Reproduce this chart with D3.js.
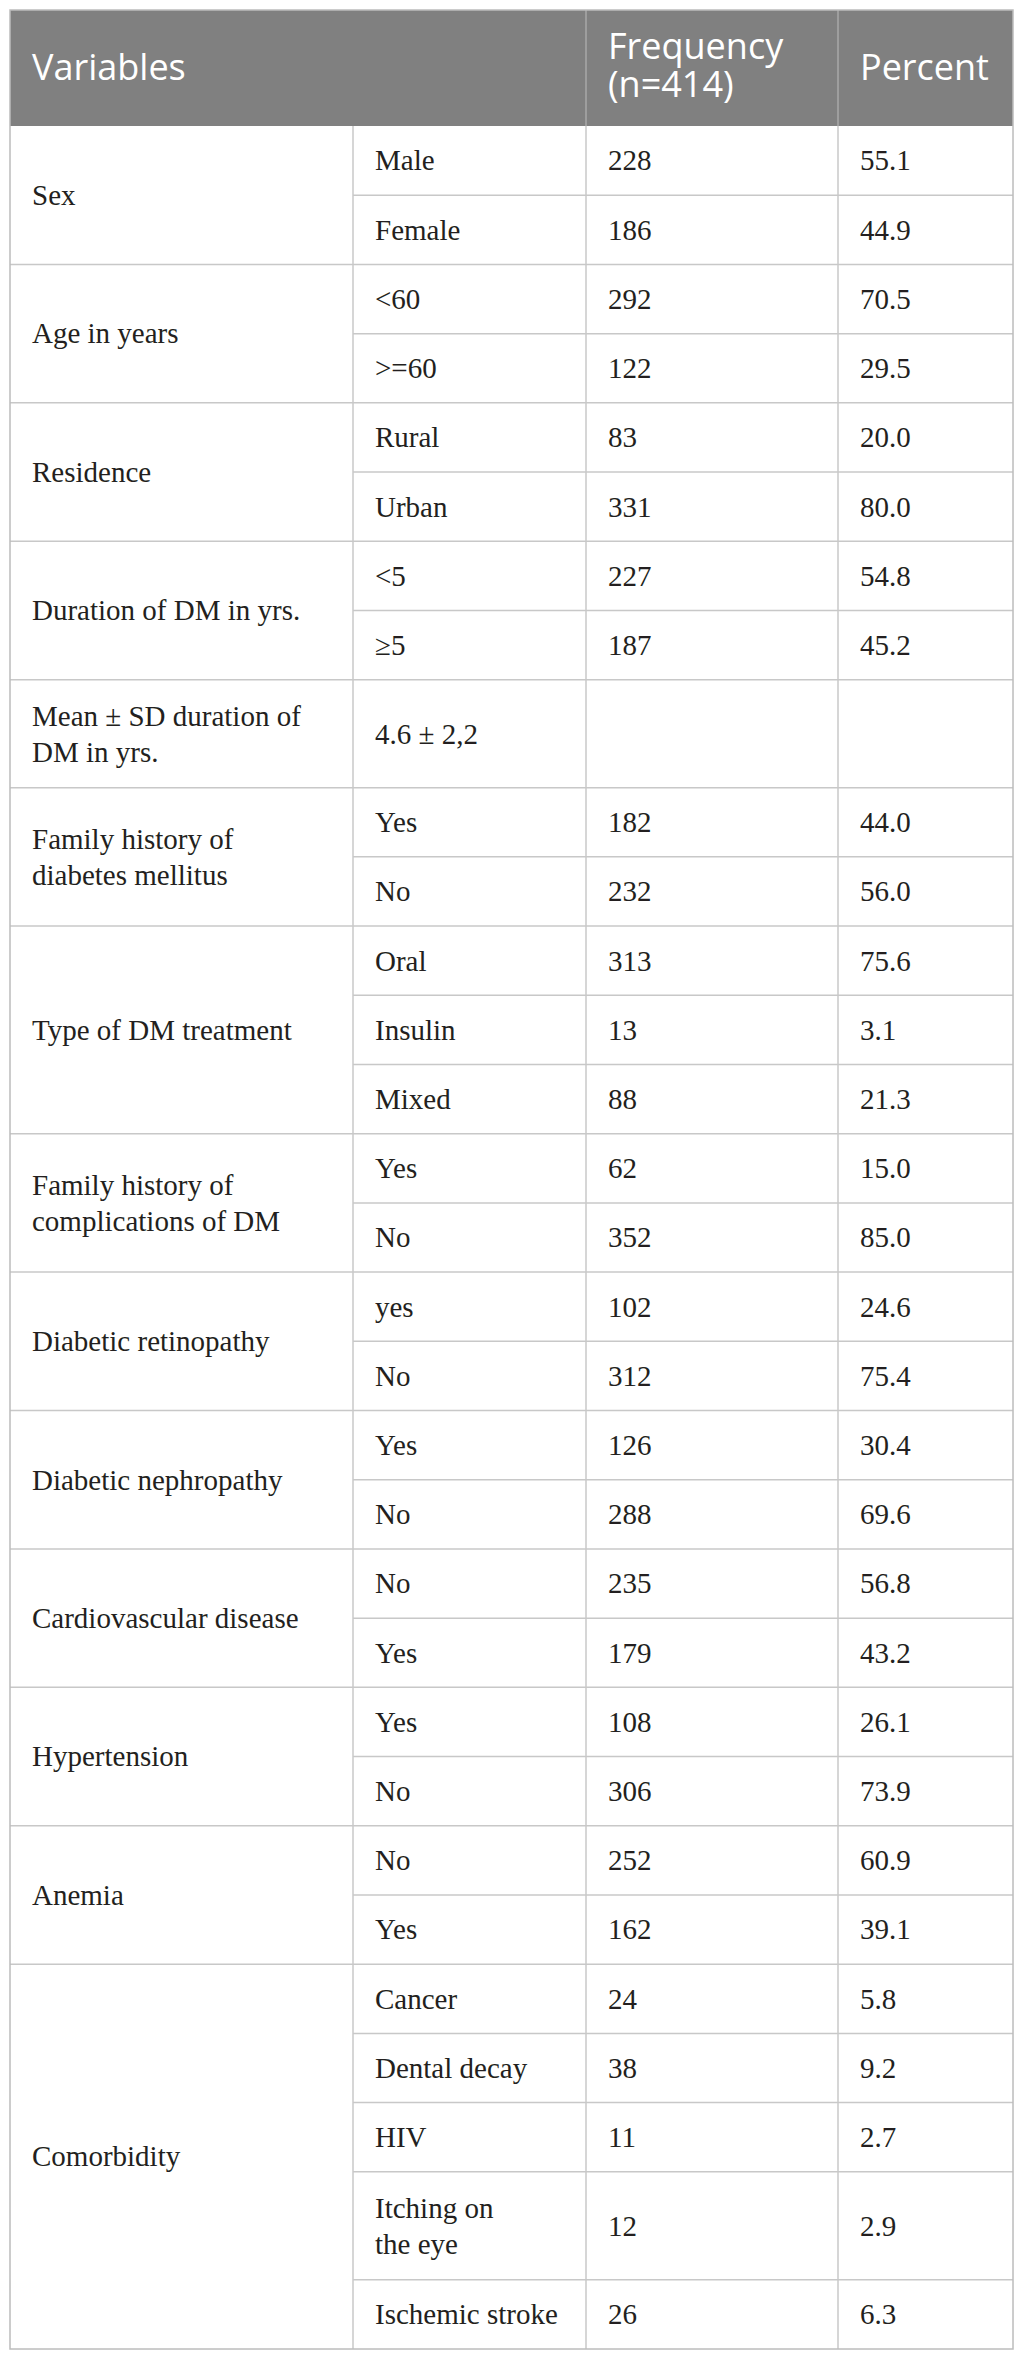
<!DOCTYPE html>
<html>
<head>
<meta charset="utf-8">
<script src="https://cdn.jsdelivr.net/npm/d3@7"></script>
<style>
  body { margin: 0; background: #ffffff; }
</style>
</head>
<body>
<script>
// Table content, one entry per variable group
var headers = ["Variables", "Frequency\n(n=414)", "Percent"];

var variables = [
  "Sex",
  "Age in years",
  "Residence",
  "Duration of DM in yrs.",
  "Mean ± SD duration of\nDM in yrs.",
  "Family history of\ndiabetes mellitus",
  "Type of DM treatment",
  "Family history of\ncomplications of DM",
  "Diabetic retinopathy",
  "Diabetic nephropathy",
  "Cardiovascular disease",
  "Hypertension",
  "Anemia",
  "Comorbidity"
];

var categories = [
  ["Male", "Female"],
  ["<60", ">=60"],
  ["Rural", "Urban"],
  ["<5", "≥5"],
  ["4.6 ± 2,2"],
  ["Yes", "No"],
  ["Oral", "Insulin", "Mixed"],
  ["Yes", "No"],
  ["yes", "No"],
  ["Yes", "No"],
  ["No", "Yes"],
  ["Yes", "No"],
  ["No", "Yes"],
  ["Cancer", "Dental decay", "HIV", "Itching on\nthe eye", "Ischemic stroke"]
];

var frequencies = [
  [228, 186],
  [292, 122],
  [83, 331],
  [227, 187],
  [null],
  [182, 232],
  [313, 13, 88],
  [62, 352],
  [102, 312],
  [126, 288],
  [235, 179],
  [108, 306],
  [252, 162],
  [24, 38, 11, 12, 26]
];

var percents = [
  ["55.1", "44.9"],
  ["70.5", "29.5"],
  ["20.0", "80.0"],
  ["54.8", "45.2"],
  [""],
  ["44.0", "56.0"],
  ["75.6", "3.1", "21.3"],
  ["15.0", "85.0"],
  ["24.6", "75.4"],
  ["30.4", "69.6"],
  ["56.8", "43.2"],
  ["26.1", "73.9"],
  ["60.9", "39.1"],
  ["5.8", "9.2", "2.7", "2.9", "6.3"]
];

var W = 1025, H = 2361;
var LEFT = 10, RIGHT = 1013, TOP = 10, HEAD_BOTTOM = 126, BOTTOM = 2349;
var PAD = 22;
var BODY_FONT = "'Liberation Serif', 'Times New Roman', serif";
var HEAD_FONT = "'Open Sans', 'Noto Sans', sans-serif";
var BODY_SIZE = 29, HEAD_SIZE = 36;
var LINE_GAP = 36, HEAD_LINE_GAP = 38;
var GRID = "#c8c8c8";

// build flat list of rows
var rows = [];
variables.forEach(function(v, g) {
  categories[g].forEach(function(c, i) {
    var lines = Math.max(c.split("\n").length, (categories[g].length === 1 ? v.split("\n").length : 1));
    rows.push({ group: g, idx: i, cat: c, freq: frequencies[g][i], pct: percents[g][i], units: lines > 1 ? 1.56 : 1 });
  });
});
var acc = 0;
rows.forEach(function(r) { r.u0 = acc; acc += r.units; r.u1 = acc; });

var y = d3.scaleLinear().domain([0, acc]).range([HEAD_BOTTOM, BOTTOM]);
var x = d3.scaleOrdinal().domain(["var", "cat", "freq", "pct", "end"]).range([LEFT, 353, 586, 838, RIGHT]);

var svg = d3.select("body").append("svg")
  .attr("width", W)
  .attr("height", H);

svg.append("rect").attr("width", W).attr("height", H).attr("fill", "#ffffff");

// header
svg.append("rect")
  .attr("x", LEFT).attr("y", TOP)
  .attr("width", RIGHT - LEFT).attr("height", HEAD_BOTTOM - TOP)
  .attr("fill", "#808080");

[x("freq"), x("pct")].forEach(function(px) {
  svg.append("line")
    .attr("x1", px).attr("x2", px).attr("y1", TOP).attr("y2", HEAD_BOTTOM)
    .attr("stroke", "#a8a8a8").attr("stroke-width", 1.5);
});

function multiline(sel, text, cx, cy, size, gap) {
  var lines = text.split("\n");
  var capHalf = size * 0.34;
  var t = sel.append("text").attr("x", cx);
  lines.forEach(function(l, i) {
    t.append("tspan")
      .attr("x", cx)
      .attr("y", cy + capHalf + (i - (lines.length - 1) / 2) * gap)
      .text(l);
  });
  return t;
}

var headMid = (TOP + HEAD_BOTTOM) / 2;
var head = svg.append("g")
  .attr("font-family", HEAD_FONT)
  .attr("font-size", HEAD_SIZE)
  .attr("fill", "#ffffff");
headers.forEach(function(h, i) {
  var key = ["var", "freq", "pct"][i];
  var twoLine = h.indexOf("\n") >= 0;
  multiline(head, h, x(key) + PAD, twoLine ? headMid - 2 : headMid, HEAD_SIZE * 0.99, HEAD_LINE_GAP);
});

// body grid
var grid = svg.append("g").attr("stroke", GRID).attr("stroke-width", 1.5);

rows.forEach(function(r) {
  if (r.idx > 0) {
    grid.append("line")
      .attr("x1", x("cat")).attr("x2", RIGHT)
      .attr("y1", y(r.u0)).attr("y2", y(r.u0));
  } else if (r.group > 0) {
    grid.append("line")
      .attr("x1", LEFT).attr("x2", RIGHT)
      .attr("y1", y(r.u0)).attr("y2", y(r.u0));
  }
});

["cat", "freq", "pct"].forEach(function(k) {
  grid.append("line")
    .attr("x1", x(k)).attr("x2", x(k))
    .attr("y1", HEAD_BOTTOM).attr("y2", BOTTOM);
});

svg.append("rect")
  .attr("x", LEFT).attr("y", TOP)
  .attr("width", RIGHT - LEFT).attr("height", BOTTOM - TOP)
  .attr("fill", "none")
  .attr("stroke", "#bcbcbc")
  .attr("stroke-width", 1.5);

// body text
var body = svg.append("g")
  .attr("font-family", BODY_FONT)
  .attr("font-size", BODY_SIZE)
  .attr("fill", "#231f20");

variables.forEach(function(v, g) {
  var gr = rows.filter(function(r) { return r.group === g; });
  var mid = (y(gr[0].u0) + y(gr[gr.length - 1].u1)) / 2;
  multiline(body, v, x("var") + PAD, mid, BODY_SIZE, LINE_GAP);
});

rows.forEach(function(r) {
  var mid = (y(r.u0) + y(r.u1)) / 2;
  multiline(body, r.cat, x("cat") + PAD, mid, BODY_SIZE, LINE_GAP);
  if (r.freq !== null) multiline(body, String(r.freq), x("freq") + PAD, mid, BODY_SIZE, LINE_GAP);
  if (r.pct) multiline(body, r.pct, x("pct") + PAD, mid, BODY_SIZE, LINE_GAP);
});
</script>
</body>
</html>
